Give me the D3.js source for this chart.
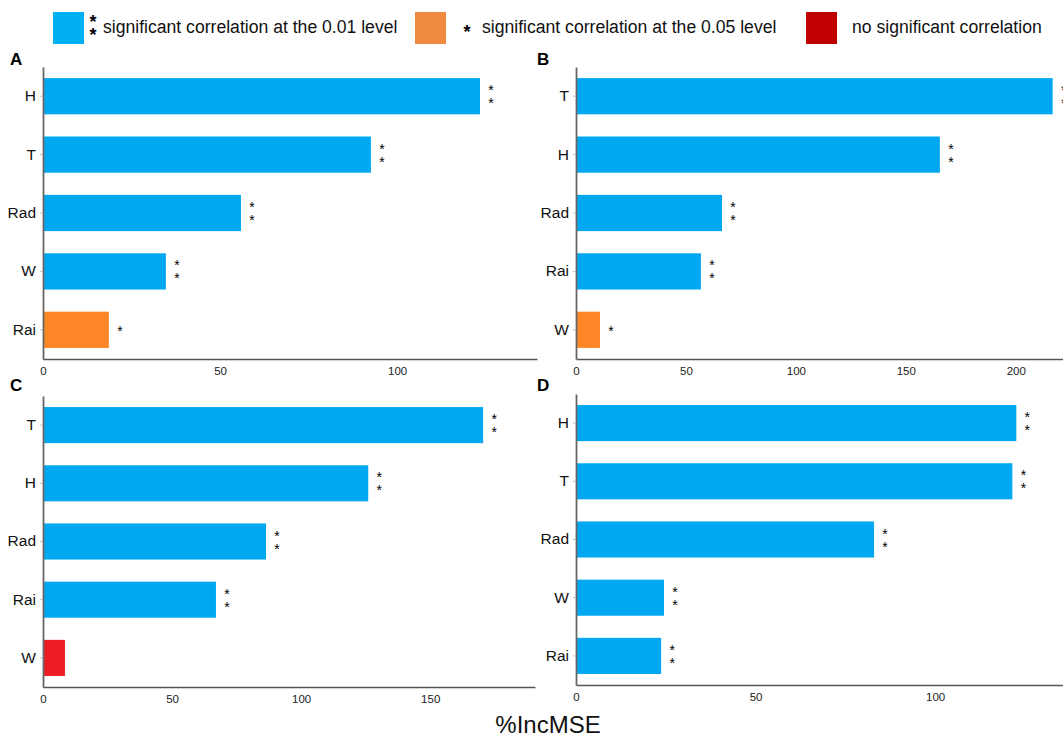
<!DOCTYPE html>
<html>
<head>
<meta charset="utf-8">
<script src="https://cdn.jsdelivr.net/npm/d3@7"></script>
<style>
  body { margin: 0; background: #fff; }
  text { font-family: "Liberation Sans", Arial, sans-serif; }
</style>
</head>
<body>
<svg></svg>
<script>
const [WIDTH, HEIGHT] = [1063, 738]

// data
const catsA = ['H', 'T', 'Rad', 'W', 'Rai']
const valsA = [123.4, 92.6, 55.9, 34.7, 18.6]
const sigA = ['**', '**', '**', '**', '*']

const catsB = ['T', 'H', 'Rad', 'Rai', 'W']
const valsB = [216.8, 165.5, 66.4, 56.8, 10.9]
const sigB = ['**', '**', '**', '**', '*']

const catsC = ['T', 'H', 'Rad', 'Rai', 'W']
const valsC = [170.5, 126, 86.4, 67, 8.5]
const sigC = ['**', '**', '**', '**', '']

const catsD = ['H', 'T', 'Rad', 'W', 'Rai']
const valsD = [122.6, 121.5, 83, 24.5, 23.7]
const sigD = ['**', '**', '**', '**', '**']

const ticksA = [0, 50, 100]
const ticksB = [0, 50, 100, 150, 200]
const ticksC = [0, 50, 100, 150]
const ticksD = [0, 50, 100]

const legendItems = ['significant correlation at the 0.01 level', 'significant correlation at the 0.05 level', 'no significant correlation']
const legendMarks = ['**', '*', '']

const barColor = { '**': '#00a8f2', '*': '#fd8727', '': '#ee1c25' }
const legendColor = ['#00b0f0', '#f08a42', '#c00000']

const svg = d3.select('svg').attr('width', WIDTH).attr('height', HEIGHT)

function panel(opt) {
    const g = svg.append('g')
    const x = d3.scaleLinear().domain([0, opt.max]).range([opt.x0, opt.x1])
    const y = d3.scaleBand().domain(opt.cats).range([opt.yTop, opt.yBot]).paddingInner(0.38).paddingOuter(0.19)

    g.selectAll('rect.bar')
        .data(opt.cats)
        .join('rect')
        .attr('class', 'bar')
        .attr('x', x(0))
        .attr('y', c => y(c))
        .attr('width', (c, i) => x(opt.vals[i]) - x(0))
        .attr('height', y.bandwidth())
        .attr('fill', (c, i) => barColor[opt.sig[i]])

    // stars
    opt.cats.forEach((c, i) => {
        const s = opt.sig[i]
        const cx = x(opt.vals[i]) + 11
        const cy = y(c) + y.bandwidth() / 2
        if (s == '**') {
            g.append('text').attr('x', cx).attr('y', cy - 1).attr('text-anchor', 'middle').attr('font-size', 14).text('*')
            g.append('text').attr('x', cx).attr('y', cy + 12).attr('text-anchor', 'middle').attr('font-size', 14).text('*')
        } else if (s == '*') {
            g.append('text').attr('x', cx).attr('y', cy + 6).attr('text-anchor', 'middle').attr('font-size', 14).text('*')
        }
    })

    const xAxis = g.append('g')
        .attr('transform', `translate(0,${opt.yBot})`)
        .call(d3.axisBottom(x).tickValues(opt.ticks).tickSize(0).tickPadding(8))
    xAxis.select('.domain').attr('stroke', '#555').attr('stroke-width', 1.6)
    xAxis.selectAll('text').attr('font-size', 11.5).attr('fill', '#222')

    const yAxis = g.append('g')
        .attr('transform', `translate(${opt.x0},0)`)
        .call(d3.axisLeft(y).tickSize(3).tickSizeOuter(0).tickPadding(4))
    yAxis.select('.domain').attr('stroke', '#666').attr('stroke-width', 1.8)
    yAxis.selectAll('.tick line').attr('stroke', '#bbb')
    yAxis.selectAll('text').attr('font-size', 15.5).attr('fill', '#111')

    svg.append('text')
        .attr('x', opt.lx).attr('y', opt.ly)
        .attr('font-size', 17).attr('font-weight', 'bold')
        .text(opt.label)
}

panel({ label: 'A', lx: 10, ly: 65, cats: catsA, vals: valsA, sig: sigA, ticks: ticksA, max: 139.5, x0: 43, x1: 537, yTop: 67, yBot: 359 })
panel({ label: 'B', lx: 537, ly: 65, cats: catsB, vals: valsB, sig: sigB, ticks: ticksB, max: 221.5, x0: 576, x1: 1063, yTop: 67, yBot: 359 })
panel({ label: 'C', lx: 10, ly: 391, cats: catsC, vals: valsC, sig: sigC, ticks: ticksC, max: 190.6, x0: 43, x1: 535, yTop: 396, yBot: 687 })
panel({ label: 'D', lx: 537, ly: 391, cats: catsD, vals: valsD, sig: sigD, ticks: ticksD, max: 135.6, x0: 576, x1: 1063, yTop: 394, yBot: 685 })

// legend
const legendX = [53, 415, 806]
const leg = svg.append('g')
legendItems.forEach((t, i) => {
    leg.append('rect').attr('x', legendX[i]).attr('y', 12).attr('width', 31).attr('height', 32).attr('fill', legendColor[i])
    let tx = legendX[i] + 46
    if (legendMarks[i] == '**') {
        leg.append('text').attr('x', legendX[i] + 40).attr('y', 28).attr('text-anchor', 'middle').attr('font-size', 18).attr('font-weight', 'bold').text('*')
        leg.append('text').attr('x', legendX[i] + 40).attr('y', 41).attr('text-anchor', 'middle').attr('font-size', 18).attr('font-weight', 'bold').text('*')
        tx = legendX[i] + 50
    } else if (legendMarks[i] == '*') {
        leg.append('text').attr('x', legendX[i] + 52).attr('y', 38).attr('text-anchor', 'middle').attr('font-size', 18).attr('font-weight', 'bold').text('*')
        tx = legendX[i] + 67
    }
    leg.append('text').attr('x', tx).attr('y', 33).attr('font-size', 17.6).attr('fill', '#111').text(t)
})

svg.append('text')
    .attr('x', 548).attr('y', 733)
    .attr('text-anchor', 'middle')
    .attr('font-size', 24)
    .attr('fill', '#111')
    .text('%IncMSE')
</script>
</body>
</html>
